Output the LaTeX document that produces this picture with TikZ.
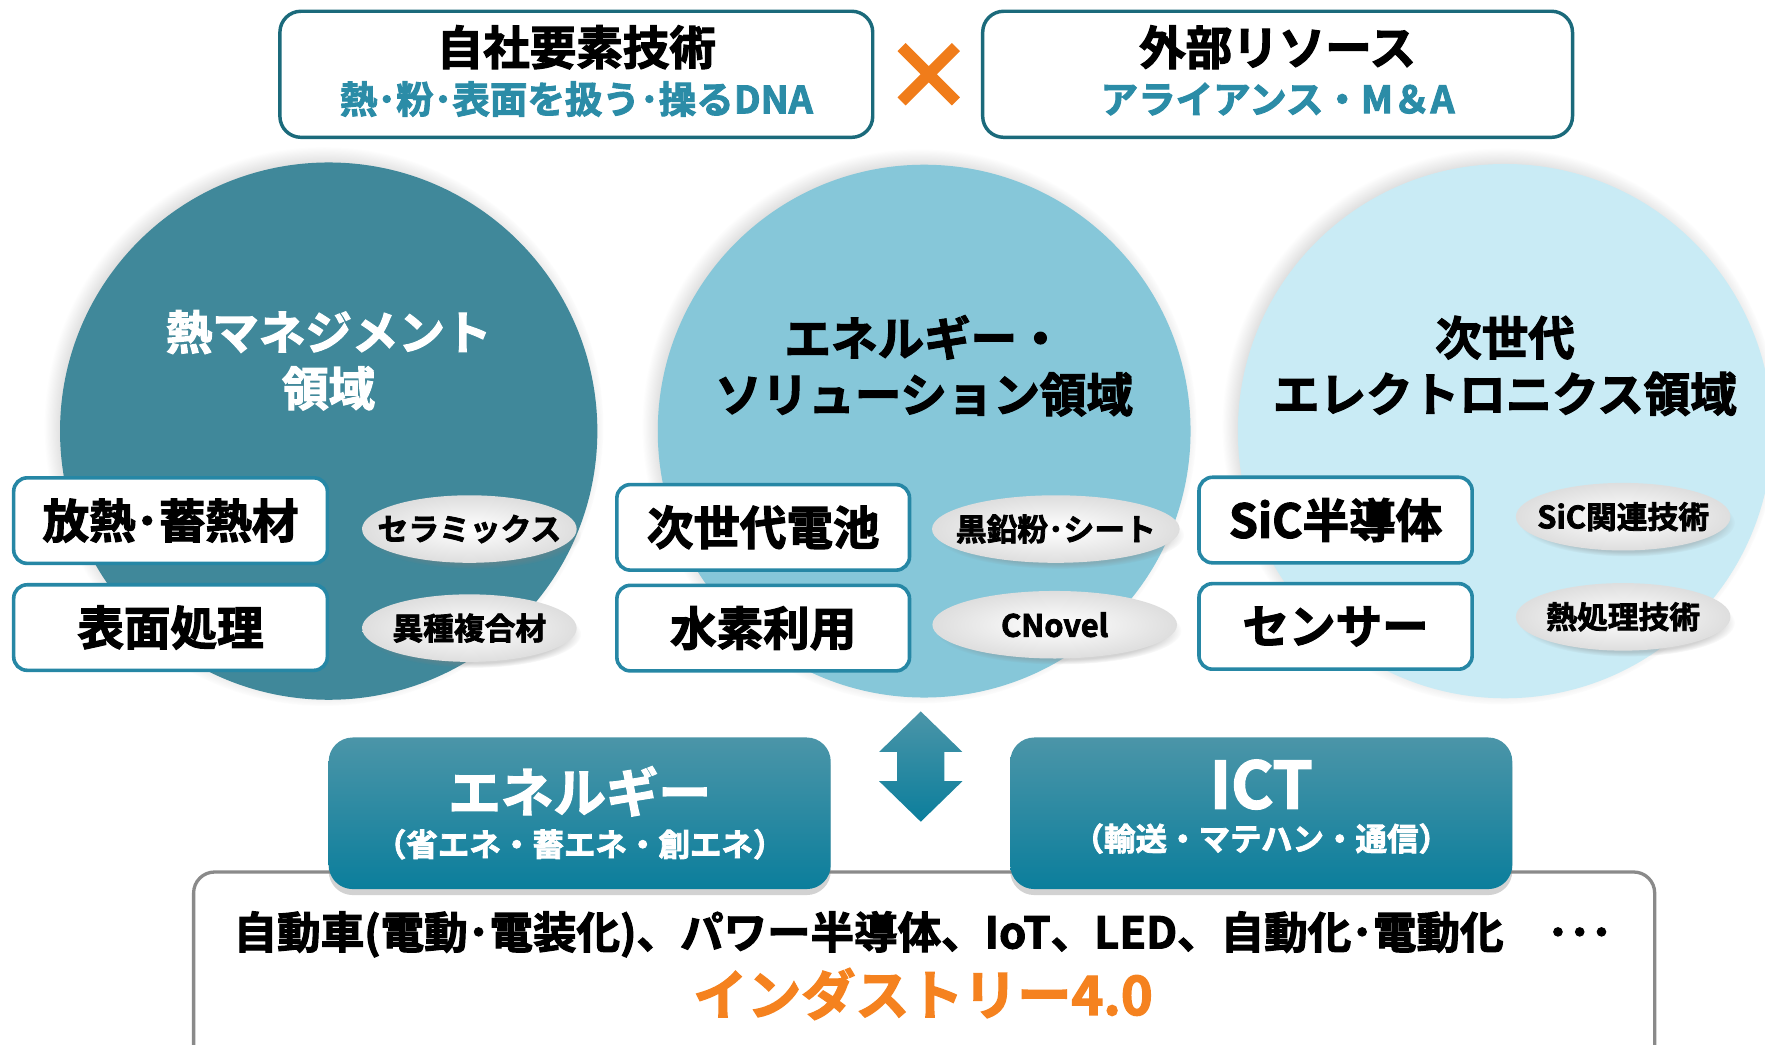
\documentclass[tikz,border=0pt]{standalone}
\usepackage{fontspec}
\setmainfont{Noto Sans CJK JP}[BoldFont={* Bold},BoldFeatures={FakeBold=2.5}]
\usepackage{tikz}
\usetikzlibrary{shapes.geometric,shadows,fadings}

\definecolor{frameTeal}{HTML}{1B6A7B}
\definecolor{dnaTeal}{HTML}{2B8CA7}
\definecolor{crossOrange}{HTML}{F07C1A}
\definecolor{heatFill}{HTML}{40889A}
\definecolor{energyFill}{HTML}{86C7D9}
\definecolor{elecFill}{HTML}{C9EBF5}
\definecolor{itemLine}{HTML}{2687A5}
\definecolor{barTop}{HTML}{4B95A8}
\definecolor{barBottom}{HTML}{0B7E9C}
\definecolor{marketLine}{HTML}{8A8A8A}
\definecolor{industryOrange}{HTML}{F5821F}

\newcommand{\fHead}{\bfseries\fontsize{31}{37.5}\selectfont}
\newcommand{\fSub}{\bfseries\fontsize{25}{28}\selectfont}
\newcommand{\fOval}{\bfseries\fontsize{20.5}{24}\selectfont}
\newcommand{\fBar}{\bfseries\fontsize{35}{40}\selectfont}
\newcommand{\fBarSub}{\bfseries\fontsize{21}{25}\selectfont}
\newcommand{\fLine}{\bfseries\fontsize{29}{33}\selectfont}
\newcommand{\fInd}{\bfseries\fontsize{36}{40}\selectfont}
\newcommand{\ovtext}[1]{\makebox[0pt]{#1}}

\begin{document}
\begin{tikzpicture}[x=0.75pt,y=0.75pt,yscale=-1,xscale=1,
  topbox/.style={draw=frameTeal,line width=2.3pt,fill=white,rounded corners=14pt,minimum width=395pt,minimum height=84pt},
  field/.style={circle,inner sep=0pt,circular drop shadow={shadow xshift=-3pt,shadow yshift=3pt,shadow scale=1.04,opacity=0.6}},
  itembox/.style={draw=itemLine,line width=2.4pt,fill=white,rounded corners=9pt,minimum height=57pt,inner sep=0pt,font=\fHead},
  oval/.style={ellipse,inner sep=0pt,minimum width=143pt,minimum height=45pt,inner color=white,outer color=black!13,circular drop shadow={shadow xshift=3pt,shadow yshift=-4pt,shadow scale=1,opacity=0.35},font=\fOval},
  bar/.style={rounded corners=16pt,top color=barTop,bottom color=barBottom,minimum width=334.5pt,minimum height=101pt,drop shadow={shadow xshift=0pt,shadow yshift=-4pt,opacity=0.35}},
  ]
\useasboundingbox (0,0) rectangle (1568,928);
\clip (0,0) rectangle (1568,928);

% Shape: Rectangle
\node[topbox] (ownTech) at (512,66) {};
% Text Node
\node[font=\fHead] (ownTechTitle) at (512,42) {自社要素技術};
% Text Node
\node[font=\fSub,text=dnaTeal] (ownTechSub) at (512,88) {熱･粉･表面を扱う･操るDNA};
% Text Node
\node[font=\bfseries\fontsize{60}{60}\selectfont,text=crossOrange] (cross) at (825,68) {×};
% Shape: Rectangle
\node[topbox,minimum width=393pt] (outside) at (1135,66) {};
% Text Node
\node[font=\fHead] (outsideTitle) at (1135,42) {外部リソース};
% Text Node
\node[font=\fSub,text=dnaTeal] (outsideSub) at (1135,88) {アライアンス・M＆A};

% Shape: Circle
\node[field,fill=heatFill,minimum size=358pt] (heat) at (292,383) {};
% Shape: Circle
\node[field,fill=energyFill,minimum size=355pt] (energy) at (821,383) {};
% Shape: Circle
\node[field,fill=elecFill,minimum size=356pt] (elec) at (1337,383) {};

% Text Node
\node[font=\fHead,text=white,align=center] (heatTitle) at (292,320) {熱マネジメント\\領域};
% Text Node
\node[font=\fHead,align=center] (energyTitle) at (821,325) {エネルギー・\\ソリューション領域};
% Text Node
\node[font=\fHead,align=center] (elecTitle) at (1337,325) {次世代\\エレクトロニクス領域};

% Shape: Rectangle
\node[itembox,minimum width=209pt] (heatSink) at (151.5,462.5) {放熱･蓄熱材};
\node[itembox,minimum width=209pt] (surface) at (151.5,557.5) {表面処理};
\node[itembox,minimum width=195pt] (battery) at (678,468.5) {次世代電池};
\node[itembox,minimum width=195pt] (hydrogen) at (678,558) {水素利用};
\node[itembox,minimum width=182pt] (sic) at (1186.5,462) {SiC半導体};
\node[itembox,minimum width=182pt] (sensor) at (1186.5,556.5) {センサー};

% Shape: Ellipse
\node[oval] (ceramic) at (417,470) {\ovtext{セラミックス}};
\node[oval] (hybrid) at (417,558) {\ovtext{異種複合材}};
\node[oval,minimum width=165pt] (graphite) at (938,470) {\ovtext{黒鉛粉･シート}};
\node[oval,minimum width=163pt] (cnovel) at (937,555) {\ovtext{CNovel}};
\node[oval] (sicTech) at (1442,459) {\ovtext{SiC関連技術}};
\node[oval] (heatTreat) at (1442,548) {\ovtext{熱処理技術}};

% Shape: Up Down Arrow
\shade[top color=barTop,bottom color=barBottom] (818,632) -- (855,668) -- (839,668) -- (839,694) -- (855,694) -- (818,730) -- (781,694) -- (797,694) -- (797,668) -- (781,668) -- cycle;

% Shape: Rectangle
\node[draw=marketLine,line width=2.2pt,rounded corners=14pt,fill=white,minimum width=973.5pt,minimum height=131pt] (market) at (821,862) {};
% Text Node
\node[font=\fLine] (marketList) at (820,830) {自動車(電動･電装化)、パワー半導体、IoT、LED、自動化･電動化\quad ･･･};
% Text Node
\node[font=\fInd,text=industryOrange] (industry) at (820,883) {インダストリー4.0};

% Shape: Rectangle
\node[bar] (energyBar) at (515,722.5) {};
% Text Node
\node[font=\fBar,text=white] (energyBarTitle) at (515,703) {エネルギー};
% Text Node
\node[font=\fBarSub,text=white] (energyBarSub) at (515,750) {（省エネ・蓄エネ・創エネ）};
% Shape: Rectangle
\node[bar] (ictBar) at (1120.5,722.5) {};
% Text Node
\node[font=\bfseries\fontsize{43}{46}\selectfont,text=white] (ictBarTitle) at (1120.5,697) {ICT};
% Text Node
\node[font=\fBarSub,text=white] (ictBarSub) at (1120.5,745) {（輸送・マテハン・通信）};

\end{tikzpicture}
\end{document}
